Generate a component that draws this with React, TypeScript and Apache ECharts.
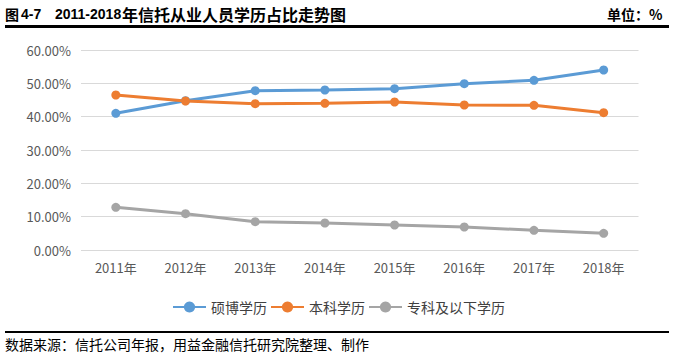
import React, { useEffect, useRef } from "react";
import * as echarts from "echarts";

const years = ["2011年", "2012年", "2013年", "2014年", "2015年", "2016年", "2017年", "2018年"];
const seriesNames = ["硕博学历", "本科学历", "专科及以下学历"];
const masterPhd = [41.0, 44.8, 47.8, 48.0, 48.4, 49.9, 50.9, 54.0];
const bachelor = [46.5, 44.7, 43.9, 44.0, 44.4, 43.5, 43.4, 41.2];
const juniorBelow = [12.8, 10.9, 8.5, 8.1, 7.5, 6.9, 5.9, 5.0];
const colors = ["#5B9BD5", "#ED7D31", "#A5A5A5"];

const titleFig = "图";
const titleNum = "4-7";
const titleYears = "2011-2018";
const titleRest = "年信托从业人员学历占比走势图";
const unitText = "单位：%";
const sourceText = "数据来源：信托公司年报，用益金融信托研究院整理、制作";

const FONT = "'Noto Sans CJK SC', 'Noto Sans', sans-serif";
const LATIN = "'Liberation Sans Narrow', 'Liberation Sans', sans-serif";

export default function App() {
  const ref = useRef<HTMLDivElement>(null);
  useEffect(() => {
    if (!ref.current) return;
    const chart = echarts.init(ref.current, null, { renderer: "svg" });
    const dataSets = [masterPhd, bachelor, juniorBelow];
    chart.setOption({
      animation: false,
      backgroundColor: "#ffffff",
      grid: { left: 81, right: 37.5, top: 50, bottom: 108, containLabel: false },
      legend: {
        left: 167,
        top: 295,
        itemWidth: 33,
        itemHeight: 14,
        itemGap: 3,
        textStyle: { fontSize: 14, color: "#404040", fontFamily: FONT },
        data: seriesNames,
      },
      xAxis: {
        type: "category",
        data: years,
        boundaryGap: true,
        axisLine: { show: false },
        axisTick: { show: false },
        axisLabel: { color: "#595959", fontSize: 13, margin: 11, fontFamily: FONT },
      },
      yAxis: {
        type: "value",
        min: 0,
        max: 60,
        interval: 10,
        axisLine: { show: false },
        axisTick: { show: false },
        splitLine: { lineStyle: { color: "#d9d9d9", width: 1 } },
        axisLabel: {
          color: "#595959",
          fontSize: 13,
          margin: 10,
          fontFamily: FONT,
          formatter: (v: number) => v.toFixed(2) + "%",
        },
      },
      series: seriesNames.map((name, i) => ({
        name,
        type: "line",
        data: dataSets[i],
        symbol: "circle",
        symbolSize: 9,
        itemStyle: { color: colors[i] },
        lineStyle: { color: colors[i], width: 3 },
      })),
      graphic: [
        { type: "text", left: 5, top: 7, style: { text: titleFig, fontSize: 14, fontWeight: "bold", fill: "#000", fontFamily: FONT } },
        { type: "text", left: 21, top: 7, style: { text: titleNum, fontSize: 14, fontWeight: "bold", fill: "#000", fontFamily: LATIN } },
        { type: "text", left: 55, top: 7, style: { text: titleYears, fontSize: 14, fontWeight: "bold", fill: "#000", fontFamily: LATIN } },
        { type: "text", left: 122, top: 6, style: { text: titleRest, fontSize: 16, fontWeight: "bold", fill: "#000", fontFamily: FONT } },
        { type: "text", left: 607, top: 7, style: { text: unitText, fontSize: 14, fontWeight: "bold", fill: "#000", fontFamily: FONT } },
        { type: "rect", shape: { x: 5, y: 25, width: 664, height: 3 }, style: { fill: "#000" } },
        { type: "rect", shape: { x: 5, y: 331, width: 664, height: 2 }, style: { fill: "#000" } },
        { type: "text", left: 5, top: 337, style: { text: sourceText, fontSize: 14, fill: "#000", fontFamily: FONT } },
      ],
    });
    return () => chart.dispose();
  }, []);
  return (
    <div
      ref={ref}
      style={{ position: "fixed", left: 0, top: 0, width: 676, height: 358 }}
    />
  );
}
